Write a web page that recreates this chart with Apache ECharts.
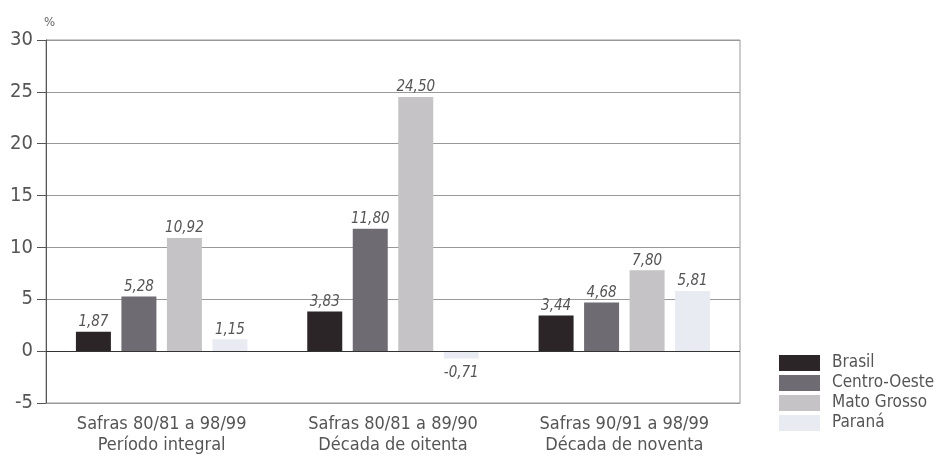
<!DOCTYPE html>
<html>
<head>
<meta charset="utf-8">
<script src="https://cdn.jsdelivr.net/npm/echarts@6/dist/echarts.min.js"></script>
<style>html,body{margin:0;padding:0;background:#fff}#c{width:941px;height:456px}</style>
</head>
<body>
<div id="c"></div>
<script>
const categories = ["Safras 80/81 a 98/99\nPeríodo integral", "Safras 80/81 a 89/90\nDécada de oitenta", "Safras 90/91 a 98/99\nDécada de noventa"];
const seriesNames = ["Brasil", "Centro-Oeste", "Mato Grosso", "Paraná"];
const brasil = [1.87, 3.83, 3.44];
const centroOeste = [5.28, 11.80, 4.68];
const matoGrosso = [10.92, 24.50, 7.80];
const parana = [1.15, -0.71, 5.81];
const yTicks = { min: -5, max: 30, interval: 5 };

const colors = ["#2b2527", "#6f6b73", "#c5c3c5", "#e9ebf3"];
const FONT = "'DejaVu Sans Condensed', 'Liberation Sans Narrow', sans-serif";
const values = [brasil, centroOeste, matoGrosso, parana];

const series = seriesNames.map((name, i) => ({
  name: name,
  type: 'bar',
  data: values[i],
  barWidth: 35,
  barGap: '30%',
  itemStyle: { color: colors[i] },
  label: {
    show: true,
    position: 'top',
    distance: 2,
    fontFamily: FONT,
    fontStyle: 'italic',
    fontSize: 15,
    color: '#555',
    formatter: p => p.value.toFixed(2).replace('.', ',')
  },
  markLine: i === 0 ? {
    silent: true, symbol: 'none', label: { show: false },
    lineStyle: { color: '#333', width: 1.2, type: 'solid' },
    data: [{ yAxis: 0 }]
  } : undefined
}));
series[3].data = parana.map(v => v < 0 ? { value: v, label: { position: 'bottom', distance: 7 } } : v);

const chart = echarts.init(document.getElementById('c'));
chart.setOption({
  animation: false,
  backgroundColor: '#fff',
  color: colors,
  grid: { left: 46, right: 201, top: 40, bottom: 53, show: true, borderColor: '#999', borderWidth: 1 },
  legend: {
    orient: 'vertical', left: 774, top: 348, itemWidth: 41, itemHeight: 16, itemGap: 0,
    icon: 'rect',
    textStyle: { fontFamily: FONT, fontSize: 17, color: '#555', lineHeight: 20, padding: [0, 0, 0, 7] },
    data: seriesNames
  },
  graphic: [{ type: 'text', left: 44, top: 16, style: { text: '%', fontFamily: FONT, fontSize: 13, fill: '#666' } }],
  xAxis: {
    type: 'category', data: categories,
    axisLine: { onZero: false, lineStyle: { color: '#999' } },
    axisTick: { show: false },
    axisLabel: { fontFamily: FONT, fontSize: 18, color: '#555', lineHeight: 21, margin: 11 }
  },
  yAxis: {
    type: 'value', min: yTicks.min, max: yTicks.max, interval: yTicks.interval,
    axisLine: { show: true, lineStyle: { color: '#555' } },
    axisTick: { show: true, inside: false, length: 9, lineStyle: { color: '#555' } },
    axisLabel: { fontFamily: FONT, fontSize: 20, color: '#555', margin: 13 },
    splitLine: { lineStyle: { color: '#999' } }
  },
  series: series
});
</script>
</body>
</html>
